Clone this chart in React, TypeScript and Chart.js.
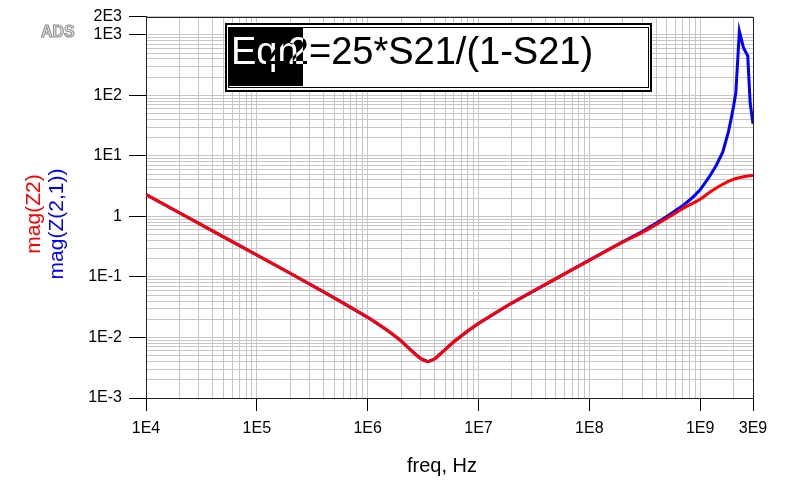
import React, { useEffect, useRef } from 'react';
import { Chart, registerables } from 'chart.js';

Chart.register(...registerables);

// ---- data ----
const FREQ_HZ = [
  1e4, 2e4, 5e4, 1e5, 2e5, 5e5, 1e6, 1.5e6, 2e6, 2.5e6, 3e6, 3.5e6, 4e6, 5e6, 6e6, 8e6,
  1e7, 2e7, 5e7, 1e8, 2e8, 3e8, 4e8, 5e8, 6e8, 7e8, 8e8, 9e8, 1e9, 1.2e9, 1.4e9, 1.6e9,
  1.8e9, 1.9e9, 2.0e9, 2.1e9, 2.26e9, 2.46e9, 2.69e9, 2.83e9, 3e9,
];

const MAG_Z2 = [
  2.3, 1.15, 0.46, 0.23, 0.115, 0.045, 0.0215, 0.0132, 0.0088, 0.006, 0.0045, 0.004, 0.0044,
  0.0063, 0.0085, 0.0128, 0.017, 0.037, 0.094, 0.188, 0.375, 0.54, 0.73, 0.93, 1.14, 1.35,
  1.55, 1.72, 1.92, 2.45, 2.95, 3.4, 3.8, 3.95, 4.1, 4.22, 4.38, 4.53, 4.64, 4.7, 4.75,
];

const MAG_Z21 = [
  2.3, 1.15, 0.46, 0.23, 0.115, 0.045, 0.0215, 0.0132, 0.0088, 0.006, 0.0045, 0.004, 0.0044,
  0.0063, 0.0085, 0.0128, 0.017, 0.037, 0.094, 0.19, 0.38, 0.56, 0.77, 1.0, 1.25, 1.52,
  1.85, 2.25, 2.75, 4.4, 7.0, 11.5, 25, 40, 65, 110, 1150, 615, 450, 74, 34,
];

const X_TICK_VALUES = [1e4, 1e5, 1e6, 1e7, 1e8, 1e9, 3e9];
const X_TICK_LABELS = ['1E4', '1E5', '1E6', '1E7', '1E8', '1E9', '3E9'];
const Y_TICK_VALUES = [1e-3, 1e-2, 1e-1, 1, 10, 100, 1000, 2000];
const Y_TICK_LABELS = ['1E-3', '1E-2', '1E-1', '1', '1E1', '1E2', '1E3', '2E3'];

const X_MIN = 1e4;
const X_MAX = 3e9;
const Y_MIN = 1e-3;
const Y_MAX = 2e3;

const FONT = '"Liberation Sans", Arial, sans-serif';

function logGrid(minVal: number, maxVal: number): number[] {
  const out: number[] = [];
  let e = Math.round(Math.log10(minVal));
  while (Math.pow(10, e) <= maxVal * 1.000001) {
    const d = Math.pow(10, e);
    for (let k = 1; k <= 9; k++) {
      const v = k * d;
      if (v >= minVal * 0.999999 && v <= maxVal * 1.000001) out.push(v);
    }
    e++;
  }
  return out;
}

function findLabel(values: number[], labels: string[], v: number): string {
  for (let i = 0; i < values.length; i++) {
    if (Math.abs(Math.log10(v) - Math.log10(values[i])) < 1e-6) return labels[i];
  }
  return '';
}

const X_GRID = logGrid(X_MIN, X_MAX);
const Y_GRID = logGrid(Y_MIN, Y_MAX);

const decorPlugin = {
  id: 'decor',
  beforeDraw(chart: any) {
    const ctx = chart.ctx;
    ctx.save();
    ctx.fillStyle = '#ffffff';
    ctx.fillRect(0, 0, chart.width, chart.height);
    ctx.restore();
  },
  afterDraw(chart: any) {
    const ctx = chart.ctx;
    const a = chart.chartArea;
    ctx.save();
    // frame top & right
    ctx.strokeStyle = '#222';
    ctx.lineWidth = 1;
    ctx.beginPath();
    ctx.moveTo(a.left, Math.round(a.top) + 0.5);
    ctx.lineTo(a.right + 0.5, Math.round(a.top) + 0.5);
    ctx.lineTo(Math.round(a.right) + 0.5, a.bottom);
    ctx.stroke();

    // ADS logo
    ctx.font = 'bold 16px ' + FONT;
    ctx.textAlign = 'left';
    ctx.textBaseline = 'alphabetic';
    ctx.fillStyle = '#e6e6e6';
    ctx.fillText('ADS', 41, 37);
    ctx.strokeStyle = '#8c8c8c';
    ctx.lineWidth = 1;
    ctx.strokeText('ADS', 41, 37);

    // axis titles
    ctx.fillStyle = '#000';
    ctx.font = '20px ' + FONT;
    ctx.textAlign = 'center';
    ctx.textBaseline = 'middle';
    ctx.fillText('freq, Hz', 442, 466);

    ctx.font = '21px ' + FONT;
    ctx.save();
    ctx.translate(34, 214);
    ctx.rotate(-Math.PI / 2);
    ctx.fillStyle = '#ff0000';
    ctx.fillText('mag(Z2)', 0, 0);
    ctx.restore();
    ctx.save();
    ctx.translate(57.5, 224);
    ctx.rotate(-Math.PI / 2);
    ctx.fillStyle = '#0000ff';
    ctx.fillText('mag(Z(2,1))', 0, 0);
    ctx.restore();

    // equation box
    ctx.fillStyle = '#ffffff';
    ctx.fillRect(225, 23, 427, 69);
    ctx.strokeStyle = '#000';
    ctx.lineWidth = 2;
    ctx.strokeRect(226, 24, 425, 67);
    ctx.lineWidth = 1;
    ctx.strokeRect(228.5, 27.5, 420, 60);
    ctx.fillStyle = '#000';
    ctx.fillRect(229, 27, 74, 59);

    ctx.font = '38px ' + FONT;
    ctx.textAlign = 'left';
    ctx.textBaseline = 'alphabetic';
    ctx.fillStyle = '#ffffff';
    ctx.fillText('Eqn', 231, 63.5);
    const zw = ctx.measureText('Z2').width;
    const z1 = ctx.measureText('Z').width;
    const x0 = 309 - zw;
    ctx.fillStyle = '#000000';
    ctx.fillText('Z', x0, 63.5);
    ctx.fillStyle = '#ffffff';
    ctx.globalCompositeOperation = 'difference';
    ctx.fillText('2=25*S21/(1-S21)', x0 + z1, 63.5);
    ctx.globalCompositeOperation = 'source-over';
    ctx.restore();
  },
};

export default function App() {
  const canvasRef = useRef<HTMLCanvasElement | null>(null);

  useEffect(() => {
    if (!canvasRef.current) return;
    const chart = new Chart(canvasRef.current, {
      type: 'line',
      data: {
        datasets: [
          {
            label: 'mag(Z2)',
            data: FREQ_HZ.map((f, i) => ({ x: f, y: MAG_Z2[i] })),
            borderColor: '#ff0000',
            borderWidth: 3,
            pointRadius: 0,
            fill: false,
            cubicInterpolationMode: 'monotone',
          },
          {
            label: 'mag(Z(2,1))',
            data: FREQ_HZ.map((f, i) => ({ x: f, y: MAG_Z21[i] })),
            borderColor: '#0000ff',
            borderWidth: 3,
            pointRadius: 0,
            fill: false,
            tension: 0,
          },
        ],
      },
      options: {
        animation: false,
        responsive: false,
        maintainAspectRatio: false,
        layout: { padding: { top: 15, right: 38, left: 0, bottom: 0 } },
        plugins: {
          legend: { display: false },
          tooltip: { enabled: false },
          title: { display: false },
        },
        scales: {
          x: {
            type: 'logarithmic',
            min: X_MIN,
            max: X_MAX,
            afterBuildTicks: (s: any) => {
              s.ticks = X_GRID.map((v) => ({ value: v }));
            },
            afterFit: (s: any) => {
              s.height = 83;
            },
            ticks: {
              autoSkip: false,
              maxRotation: 0,
              minRotation: 0,
              padding: 8,
              color: '#000',
              font: { family: FONT, size: 16 },
              callback: (v: any) => findLabel(X_TICK_VALUES, X_TICK_LABELS, Number(v)),
            },
            grid: {
              color: '#c6c6c6',
              lineWidth: 1,
              tickLength: 13,
              tickColor: (c: any) =>
                c.tick && findLabel(X_TICK_VALUES, X_TICK_LABELS, c.tick.value) ? '#000' : 'rgba(0,0,0,0)',
            },
            border: { display: true, color: '#222', width: 1 },
          },
          y: {
            type: 'logarithmic',
            min: Y_MIN,
            max: Y_MAX,
            afterBuildTicks: (s: any) => {
              s.ticks = Y_GRID.map((v) => ({ value: v }));
            },
            afterFit: (s: any) => {
              s.width = 146;
            },
            ticks: {
              autoSkip: false,
              padding: 7,
              color: '#000',
              font: { family: FONT, size: 16 },
              callback: (v: any) => findLabel(Y_TICK_VALUES, Y_TICK_LABELS, Number(v)),
            },
            grid: {
              color: '#c6c6c6',
              lineWidth: 1,
              tickLength: 17,
              tickColor: (c: any) =>
                c.tick && findLabel(Y_TICK_VALUES, Y_TICK_LABELS, c.tick.value) ? '#000' : 'rgba(0,0,0,0)',
            },
            border: { display: true, color: '#222', width: 1 },
          },
        },
      } as any,
      plugins: [decorPlugin],
    });
    return () => chart.destroy();
  }, []);

  return (
    <div style={{ position: 'absolute', left: 0, top: 0, width: 791, height: 481 }}>
      <canvas ref={canvasRef} width={791} height={481} style={{ display: 'block' }} />
    </div>
  );
}
